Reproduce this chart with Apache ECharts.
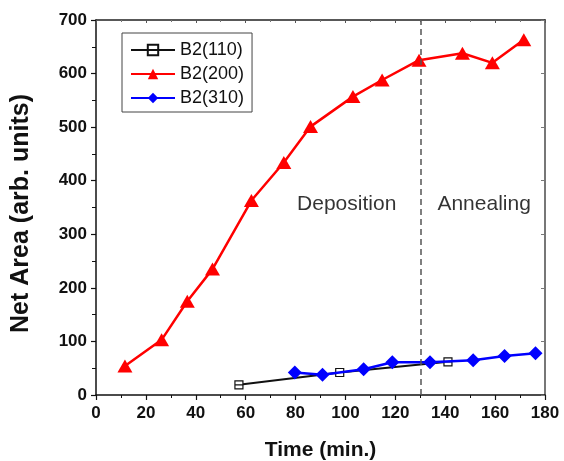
<!DOCTYPE html>
<html>
<head>
<meta charset="utf-8">
<script src="https://cdn.jsdelivr.net/npm/echarts@6/dist/echarts.min.js"></script>
<style>html,body{margin:0;padding:0;background:#fff}#c{width:564px;height:461px}</style>
</head>
<body>
<div id="c"></div>
<script>
// ---- data ----
var seriesNames = ['B2(110)', 'B2(200)', 'B2(310)'];
var b2_110 = [[57.3, 19], [97.7, 42], [141.1, 62]];
var b2_200 = [[11.6, 54], [26.3, 103], [36.6, 175], [46.7, 235], [62.3, 363], [75.3, 434], [86.0, 501],
              [103.0, 557], [114.7, 588], [129.5, 625], [146.9, 638], [158.9, 620], [171.5, 663]];
var b2_310 = [[79.7, 42], [90.8, 38], [107.3, 48], [118.8, 61], [133.9, 61], [151.2, 65], [163.8, 73], [176.2, 78]];
var boundaryX = 130;
var annotations = [[100.5, 356, 'Deposition'], [155.6, 356, 'Annealing']];
var xTitle = 'Time (min.)';
var yTitle = 'Net Area (arb. units)';

var FONT = '"Liberation Sans", Arial, Helvetica, sans-serif';
var chart = echarts.init(document.getElementById('c'), null, {renderer: 'canvas'});

var tickLabel = {fontFamily: FONT, fontSize: 17, fontWeight: 'bold', color: '#111'};

chart.setOption({
  animation: false,
  backgroundColor: '#fff',
  grid: {left: 96, right: 19, top: 20, bottom: 66, containLabel: false, outerBoundsMode: 'none'},
  legend: {
    left: 122, top: 33, orient: 'vertical',
    padding: [8, 8, 5, 8],
    itemGap: 6, itemWidth: 44, itemHeight: 13,
    borderColor: '#444', borderWidth: 1,
    textStyle: {fontFamily: FONT, fontSize: 18, color: '#111'},
    data: seriesNames
  },
  xAxis: [{
    type: 'value', min: 0, max: 180, interval: 20, position: 'bottom',
    name: xTitle, nameLocation: 'middle', nameGap: 45,
    nameTextStyle: {fontFamily: FONT, fontSize: 21, fontWeight: 'bold', color: '#111'},
    axisLine: {show: true, onZero: false, lineStyle: {color: '#111', width: 1.5}},
    axisTick: {show: true, inside: false, length: 5, lineStyle: {color: '#111', width: 1.2}},
    minorTick: {show: true, splitNumber: 2, length: 3, lineStyle: {color: '#111', width: 1}},
    axisLabel: Object.assign({margin: 10}, tickLabel),
    splitLine: {show: false}
  }, {
    type: 'value', min: 0, max: 180, interval: 20, position: 'top',
    axisLine: {show: true, onZero: false, lineStyle: {color: '#222', width: 1.5}},
    axisTick: {show: true, inside: true, length: 3, lineStyle: {color: '#555', width: 1}},
    minorTick: {show: true, splitNumber: 2, length: 2, lineStyle: {color: '#777', width: 1}},
    axisLabel: {show: false}, splitLine: {show: false}
  }],
  yAxis: [{
    type: 'value', min: 0, max: 700, interval: 100, position: 'left',
    name: yTitle, nameLocation: 'middle', nameGap: 62,
    nameTextStyle: {fontFamily: FONT, fontSize: 25, fontWeight: 'bold', color: '#111', padding: [0, 12, 0, 0]},
    axisLine: {show: true, onZero: false, lineStyle: {color: '#111', width: 1.5}},
    axisTick: {show: true, inside: false, length: 5, lineStyle: {color: '#111', width: 1.2}},
    minorTick: {show: true, splitNumber: 2, length: 4, lineStyle: {color: '#111', width: 1}},
    axisLabel: Object.assign({margin: 9}, tickLabel),
    splitLine: {show: false}
  }, {
    type: 'value', min: 0, max: 700, interval: 100, position: 'right',
    axisLine: {show: true, onZero: false, lineStyle: {color: '#777', width: 2}},
    axisTick: {show: true, inside: true, length: 4, lineStyle: {color: '#777', width: 1}},
    minorTick: {show: false},
    axisLabel: {show: false}, splitLine: {show: false}
  }],
  series: [{
    name: seriesNames[0], type: 'line', data: b2_110,
    xAxisIndex: 0, yAxisIndex: 0, z: 2,
    symbol: 'path://M0 0H10V10H0ZM0 5H10', symbolSize: 8, showAllSymbol: true,
    itemStyle: {color: '#fff', borderColor: '#111', borderWidth: 1.2},
    lineStyle: {color: '#111', width: 2}
  }, {
    name: seriesNames[1], type: 'line', data: b2_200,
    xAxisIndex: 0, yAxisIndex: 0, z: 3,
    symbol: 'triangle', symbolSize: [15, 13], showAllSymbol: true,
    itemStyle: {color: '#ff0000'},
    lineStyle: {color: '#ff0000', width: 2.5}
  }, {
    name: seriesNames[2], type: 'line', data: b2_310,
    xAxisIndex: 0, yAxisIndex: 0, z: 4,
    symbol: 'diamond', symbolSize: [14, 14], showAllSymbol: true,
    itemStyle: {color: '#0000ff'},
    lineStyle: {color: '#0000ff', width: 2.5},
    markLine: {
      silent: true, symbol: 'none',
      label: {show: false},
      lineStyle: {color: '#555', type: [6, 4], width: 1.5},
      data: [{xAxis: boundaryX}]
    }
  }, {
    name: 'annotations', type: 'scatter', data: annotations,
    xAxisIndex: 0, yAxisIndex: 0, symbolSize: 0, silent: true,
    label: {
      show: true, position: 'inside',
      formatter: function (p) { return p.data[2]; },
      fontFamily: FONT, fontSize: 21, color: '#000'
    }
  }]
});
</script>
</body>
</html>
